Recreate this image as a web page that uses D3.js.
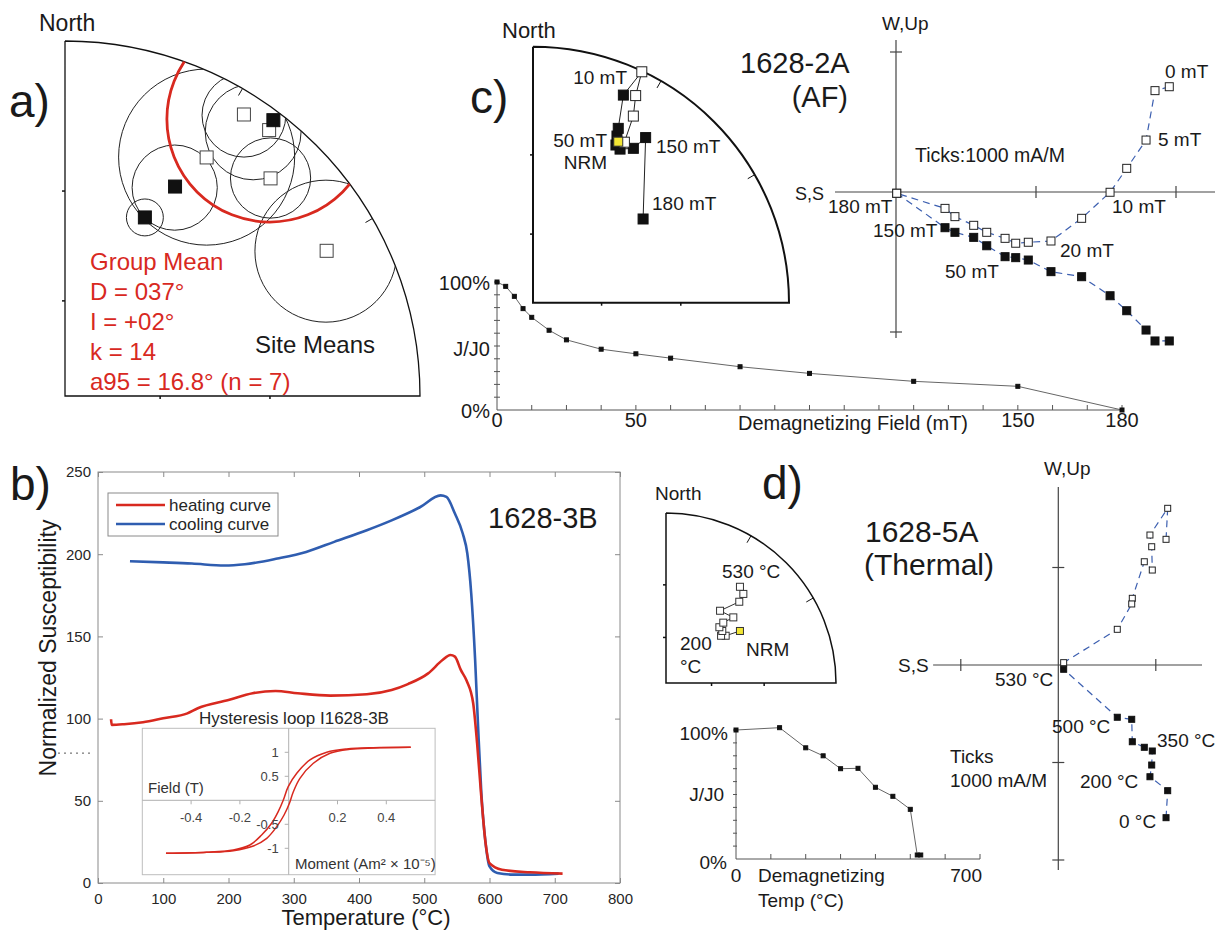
<!DOCTYPE html>
<html>
<head>
<meta charset="utf-8">
<script src="https://cdn.jsdelivr.net/npm/d3@7"></script>
<style>
  body { margin: 0; background: #fff; }
  svg { font-family: "Liberation Sans", Arial, sans-serif; }
</style>
</head>
<body>
<script>
// ---------- panel a: site means (net coords, unit radius) ----------
const siteOpen = [[0.504, 0.793], [0.575, 0.749], [0.399, 0.672], [0.579, 0.613], [0.737, 0.409]];
const siteFilled = [[0.587, 0.777], [0.310, 0.590], [0.225, 0.503]];
// a95 circles: cx, cy, r
const siteA95 = [[0.225, 0.503, 0.052], [0.309, 0.587, 0.120], [0.399, 0.673, 0.248],
                 [0.504, 0.791, 0.118], [0.530, 0.744, 0.135], [0.579, 0.614, 0.113], [0.735, 0.408, 0.200]];
const groupMean = [0.577, 0.780, 0.290];
const groupText = ["Group Mean", "D = 037°", "I = +02°", "k = 14", "a95 = 16.8° (n = 7)"];

// ---------- panel b: susceptibility vs temperature ----------
const heating = [[20, 99.6], [21, 96.2], [40, 96.6], [69, 97.8], [100, 100.2], [137, 103.2], [153, 106.3],
  [200, 111.3], [237, 115.4], [272, 116.8], [306, 115.4], [356, 114], [412, 114.8], [450, 117.4],
  [475, 121], [506, 127.5], [528, 135.6], [540, 138.7], [547, 137.7], [556, 129.6], [565, 123],
  [575, 109.3], [581, 85], [587, 54.7], [594, 24.3], [600, 12.1], [619, 8.1], [662, 6.5], [712, 5.7]];
const cooling = [[49, 195.7], [100, 195], [144, 194.3], [194, 193.1], [225, 193.9], [275, 197.4],
  [319, 201.4], [362, 207.5], [412, 214.6], [450, 220.6], [494, 228.7], [525, 235.8], [534, 234.8],
  [547, 224.7], [559, 212.6], [566, 200.4], [572, 176.1], [578, 135.6], [582.5, 95.1], [587.5, 54.7],
  [594, 24.3], [600, 10.1], [612, 6.1], [637, 5.1], [662, 5.1], [706, 5.7]];
const tempTicks = [0, 100, 200, 300, 400, 500, 600, 700, 800];
const suscTicks = [0, 50, 100, 150, 200, 250];

// hysteresis inset, two branches
const loopUpper = [[-0.503, -1.104], [-0.336, -1.083], [-0.227, -1.035], [-0.159, -0.931], [-0.111, -0.723],
  [-0.070, -0.479], [-0.043, -0.237], [-0.022, 0.006], [-0.002, 0.284], [0.033, 0.563], [0.087, 0.840],
  [0.156, 1.0], [0.238, 1.069], [0.347, 1.096], [0.5, 1.104]];
const loopLower = [[-0.503, -1.104], [-0.336, -1.083], [-0.227, -1.049], [-0.145, -0.952], [-0.090, -0.792],
  [-0.049, -0.549], [-0.019, -0.306], [0.003, -0.063], [0.019, 0.179], [0.046, 0.458], [0.101, 0.771],
  [0.169, 0.979], [0.251, 1.063], [0.347, 1.090], [0.5, 1.104]];
const loopXTicks = [-0.4, -0.2, 0.2, 0.4];
const loopYTicks = [1, 0.5, -0.5, -1];

// ---------- panel c: AF demagnetisation 1628-2A ----------
const afSteps = [0, 2.5, 5, 7.5, 10, 15, 20, 30, 40, 50, 70, 90, 120, 150, 180];
const afJ = [1.0, 0.966, 0.888, 0.792, 0.724, 0.623, 0.548, 0.475, 0.439, 0.405, 0.338, 0.286, 0.224, 0.185, 0.0];
const afNorth = [1952, 1850, 1786, 1648, 1529, 1326, 1107, 945, 855, 779, 648, 555, 421, 350, 5];
const afUp = [752, 724, 371, 169, -2, -188, -350, -359, -366, -331, -288, -238, -176, -117, -9];
const afWest = [-1064, -1064, -986, -848, -741, -605, -569, -486, -469, -462, -384, -324, -288, -255, -9];
const afNet = [[0.333, 0.629, "n"], [0.328, 0.651, "f"], [0.333, 0.681, "f"], [0.353, 0.811, "f"],
  [0.425, 0.902, "o"], [0.401, 0.809, "o"], [0.392, 0.729, "o"], [0.357, 0.627, "o"],
  [0.324, 0.616, "f"], [0.340, 0.600, "f"], [0.392, 0.603, "f"], [0.440, 0.645, "f"], [0.430, 0.327, "f"]];
const afTickVals = [0, 40, 150, 180];
const afTickText = ["0", "50", "150", "180"];

// ---------- panel d: thermal demagnetisation 1628-5A ----------
const thSteps = [0, 125, 200, 250, 300, 350, 400, 450, 500, 520, 530];
const thJ = [1.0, 1.018, 0.862, 0.800, 0.700, 0.703, 0.556, 0.486, 0.385, 0.031, 0.031];
const thNorth = [1105, 1122, 940, 958, 964, 882, 759, 753, 605, 55];
const thUp = [1289, 1607, 1333, 1213, 974, 1059, 684, 626, 366, 24];
const thWest = [-1566, -1289, -1146, -1026, -882, -844, -787, -557, -536, -44];
const thNet = [[0.435, 0.306, "n"], [0.351, 0.278, "o"], [0.324, 0.278, "o"], [0.331, 0.306, "o"],
  [0.314, 0.328, "o"], [0.337, 0.355, "o"], [0.396, 0.386, "o"], [0.318, 0.425, "o"],
  [0.431, 0.478, "o"], [0.455, 0.524, "o"], [0.435, 0.566, "o"]];

// ================= drawing =================
const width = 1215, height = 930;
const svg = d3.select("body").append("svg")
  .attr("width", width).attr("height", height);
svg.append("rect").attr("width", width).attr("height", height).attr("fill", "#fff");

const RED = "#d8291f", BLUE = "#2f5db0", DASH = "#3c5fb0";

function label(txt, x, y, size, opts = {}) {
  return svg.append("text")
    .attr("x", x).attr("y", y)
    .attr("font-size", size)
    .attr("fill", opts.fill || "#1a1a1a")
    .attr("text-anchor", opts.anchor || "start")
    .text(txt);
}

function squares(g, pts, xs, ys, size, fill, stroke) {
  g.selectAll(null).data(pts).enter().append("rect")
    .attr("x", d => xs(d[0]) - size / 2)
    .attr("y", d => ys(d[1]) - size / 2)
    .attr("width", size).attr("height", size)
    .attr("fill", fill).attr("stroke", stroke).attr("stroke-width", 1);
}

// quarter stereonet (equal angle), origin = centre of net
function stereonet(ox, oy, R, sw, clipId) {
  const x = d3.scaleLinear().domain([0, 1]).range([ox, ox + R]);
  const y = d3.scaleLinear().domain([0, 1]).range([oy, oy - R]);
  const p = d3.path();
  p.moveTo(ox, oy - R); p.lineTo(ox, oy); p.lineTo(ox + R, oy);
  p.arc(ox, oy, R, 0, -Math.PI / 2, true);
  svg.append("clipPath").attr("id", clipId).append("path").attr("d", p.toString());
  const g = svg.append("g");
  g.append("path").attr("d", p.toString())
    .attr("fill", "none").attr("stroke", "#111").attr("stroke-width", sw);
  const inner = 1 - 8 / R;
  [30, 60].forEach(dec => {
    const a = dec * Math.PI / 180;
    g.append("line")
      .attr("x1", x(Math.sin(a))).attr("y1", y(Math.cos(a)))
      .attr("x2", x(Math.sin(a) * inner)).attr("y2", y(Math.cos(a) * inner))
      .attr("stroke", "#111").attr("stroke-width", 1);
  });
  [30, 60].forEach(inc => {
    const r = Math.tan((90 - inc) / 2 * Math.PI / 180);
    g.append("line").attr("x1", x(0)).attr("x2", x(0) - 3)
      .attr("y1", y(r)).attr("y2", y(r)).attr("stroke", "#111").attr("stroke-width", 1.5);
    g.append("line").attr("x1", x(r)).attr("x2", x(r))
      .attr("y1", y(0)).attr("y2", y(0) + 3).attr("stroke", "#111").attr("stroke-width", 1.5);
  });
  return { g, x, y };
}

// ---------- panel a ----------
{
  const net = stereonet(65, 396, 355, 1.3, "clipA");
  const R = 355;
  const clipped = net.g.append("g").attr("clip-path", "url(#clipA)");
  clipped.selectAll(null).data(siteA95).enter().append("circle")
    .attr("cx", d => net.x(d[0])).attr("cy", d => net.y(d[1])).attr("r", d => d[2] * R)
    .attr("fill", "none").attr("stroke", "#222").attr("stroke-width", 1);
  clipped.append("circle")
    .attr("cx", net.x(groupMean[0])).attr("cy", net.y(groupMean[1])).attr("r", groupMean[2] * R)
    .attr("fill", "none").attr("stroke", RED).attr("stroke-width", 2.8);
  squares(net.g, siteOpen, net.x, net.y, 13, "#fff", "#444");
  squares(net.g, siteFilled, net.x, net.y, 13, "#111", "#111");

  label("North", 39, 31, 23);
  label("a)", 9, 117, 46);
  groupText.forEach((t, i) => label(t, 90, 270 + i * 30, 24, { fill: RED }));
  label("Site Means", 255, 353, 24);
}

// ---------- panel c: stereonet ----------
{
  const net = stereonet(533, 302.7, 256, 2, "clipC");
  net.g.append("path")
    .attr("d", d3.line().x(d => net.x(d[0])).y(d => net.y(d[1]))(afNet))
    .attr("fill", "none").attr("stroke", "#222").attr("stroke-width", 1);
  squares(net.g, afNet.filter(d => d[2] === "f"), net.x, net.y, 10, "#111", "#111");
  squares(net.g, afNet.filter(d => d[2] === "o"), net.x, net.y, 10, "#fff", "#222");
  squares(net.g, afNet.filter(d => d[2] === "n"), net.x, net.y, 9, "#f2e634", "#333");

  label("North", 502, 38, 22);
  label("c)", 470, 113, 46);
  label("10 mT", 627, 84, 19, { anchor: "end" });
  label("50 mT", 607, 147, 19, { anchor: "end" });
  label("NRM", 607, 169, 19, { anchor: "end" });
  label("150 mT", 656, 153, 19);
  label("180 mT", 652, 210, 19);
  label("1628-2A", 740, 73, 29);
  label("(AF)", 848, 107, 29, { anchor: "end" });
}

// ---------- panel c: J/J0 curve ----------
{
  const x = d3.scaleLinear().domain([0, 180]).range([497, 1122]);
  const y = d3.scaleLinear().domain([0, 1]).range([410, 282]);
  const g = svg.append("g");
  g.append("line").attr("x1", x(0)).attr("x2", x(180)).attr("y1", y(0)).attr("y2", y(0))
    .attr("stroke", "#555").attr("stroke-width", 1);
  g.append("line").attr("x1", x(0)).attr("x2", x(0)).attr("y1", y(0)).attr("y2", y(1))
    .attr("stroke", "#555").attr("stroke-width", 1);
  g.selectAll(null).data(d3.range(10, 181, 10)).enter().append("line")
    .attr("x1", d => x(d)).attr("x2", d => x(d)).attr("y1", y(0)).attr("y2", y(0) - 5)
    .attr("stroke", "#555").attr("stroke-width", 1);
  g.selectAll(null).data(d3.range(0.1, 1.01, 0.1)).enter().append("line")
    .attr("x1", x(0) - 3).attr("x2", x(0) + 3).attr("y1", d => y(d)).attr("y2", d => y(d))
    .attr("stroke", "#555").attr("stroke-width", 1);
  const pts = afSteps.map((s, i) => [s, afJ[i]]);
  g.append("path").attr("d", d3.line().x(d => x(d[0])).y(d => y(d[1]))(pts))
    .attr("fill", "none").attr("stroke", "#666").attr("stroke-width", 1);
  squares(g, pts, x, y, 4, "#111", "#111");
  label("100%", 490, 290, 20, { anchor: "end" });
  label("J/J0", 490, 356, 20, { anchor: "end" });
  label("0%", 490, 418, 20, { anchor: "end" });
  afTickVals.forEach((v, i) => label(afTickText[i], x(v), 427, 20, { anchor: "middle" }));
  label("Demagnetizing Field (mT)", 853, 430, 20, { anchor: "middle" });
}

// ---------- Zijderveld helper ----------
function zijder(ox, oy, pxPer1000, ext, hTicks, vTicks, north, up, west, size) {
  const x = d3.scaleLinear().domain([0, 1000]).range([ox, ox + pxPer1000]);
  const y = d3.scaleLinear().domain([0, 1000]).range([oy, oy - pxPer1000]);
  const g = svg.append("g");
  g.append("line").attr("x1", x(ext[0])).attr("x2", x(ext[1])).attr("y1", y(0)).attr("y2", y(0))
    .attr("stroke", "#444").attr("stroke-width", 1.2);
  g.append("line").attr("x1", x(0)).attr("x2", x(0)).attr("y1", y(ext[2])).attr("y2", y(ext[3]))
    .attr("stroke", "#444").attr("stroke-width", 1.2);
  g.selectAll(null).data(hTicks).enter().append("line")
    .attr("x1", d => x(d)).attr("x2", d => x(d)).attr("y1", y(0) - 6).attr("y2", y(0) + 6)
    .attr("stroke", "#444").attr("stroke-width", 1.2);
  g.selectAll(null).data(vTicks).enter().append("line")
    .attr("x1", x(0) - 6).attr("x2", x(0) + 6).attr("y1", d => y(d)).attr("y2", d => y(d))
    .attr("stroke", "#444").attr("stroke-width", 1.2);
  const vert = north.map((n, i) => [n, up[i]]);
  const horiz = north.map((n, i) => [n, west[i]]);
  const line = d3.line().x(d => x(d[0])).y(d => y(d[1]));
  [vert, horiz].forEach(set => g.append("path").attr("d", line(set))
    .attr("fill", "none").attr("stroke", DASH).attr("stroke-width", 1.2).attr("stroke-dasharray", "7,5"));
  squares(g, horiz, x, y, size, "#111", "#111");
  squares(g, vert, x, y, size, "#fff", "#222");
  return g;
}

// ---------- panel c: Zijderveld ----------
zijder(896, 192, 140, [-436, 2280, 1086, -1043], [1000, 2000], [1000, -1000], afNorth, afUp, afWest, 8);
label("W,Up", 882, 30, 19);
label("S,S", 795, 200, 18);
label("180 mT", 828, 213, 19);
label("0 mT", 1165, 78, 19);
label("5 mT", 1158, 146, 19);
label("Ticks:1000 mA/M", 915, 162, 19.5);
label("10 mT", 1112, 213, 19);
label("150 mT", 873, 237, 19);
label("20 mT", 1060, 257, 19);
label("50 mT", 945, 278, 19);

// ---------- panel b ----------
{
  const x = d3.scaleLinear().domain([0, 800]).range([98, 620]);
  const y = d3.scaleLinear().domain([0, 250]).range([883, 472]);
  const g = svg.append("g");
  const axStyle = sel => {
    sel.select(".domain").remove();
    sel.selectAll(".tick line").attr("stroke", "#8a8a8a");
    sel.selectAll(".tick text").attr("fill", "#262626").attr("font-size", 15)
      .attr("font-family", "Liberation Sans, Arial, sans-serif");
  };
  g.append("g").attr("transform", `translate(0,${y(0)})`)
    .call(d3.axisBottom(x).tickValues(tempTicks).tickSize(-5).tickPadding(10)).call(axStyle);
  g.append("g").attr("transform", `translate(0,${y(250)})`)
    .call(d3.axisTop(x).tickValues(tempTicks).tickSize(-5).tickFormat("")).call(axStyle);
  g.append("g").attr("transform", `translate(${x(0)},0)`)
    .call(d3.axisLeft(y).tickValues(suscTicks).tickSize(-5).tickPadding(7)).call(axStyle);
  g.append("g").attr("transform", `translate(${x(800)},0)`)
    .call(d3.axisRight(y).tickValues(suscTicks).tickSize(-5).tickFormat("")).call(axStyle);
  g.append("rect").attr("x", x(0)).attr("y", y(250)).attr("width", x(800) - x(0)).attr("height", y(0) - y(250))
    .attr("fill", "none").attr("stroke", "#8a8a8a").attr("stroke-width", 1);

  const line = d3.line().x(d => x(d[0])).y(d => y(d[1])).curve(d3.curveMonotoneX);
  g.append("path").attr("d", line(cooling)).attr("fill", "none").attr("stroke", BLUE).attr("stroke-width", 2.6);
  g.append("path").attr("d", line(heating)).attr("fill", "none").attr("stroke", RED).attr("stroke-width", 2.6);

  // stray dotted mark left of the axis
  g.append("line").attr("x1", 58).attr("x2", 92).attr("y1", y(79)).attr("y2", y(79))
    .attr("stroke", "#555").attr("stroke-width", 1).attr("stroke-dasharray", "2,4");

  // legend
  g.append("rect").attr("x", 108).attr("y", 493).attr("width", 170).attr("height", 43)
    .attr("fill", "#fff").attr("stroke", "#8a8a8a");
  g.append("line").attr("x1", 116).attr("x2", 165).attr("y1", 505).attr("y2", 505).attr("stroke", RED).attr("stroke-width", 2.6);
  g.append("line").attr("x1", 116).attr("x2", 165).attr("y1", 524).attr("y2", 524).attr("stroke", BLUE).attr("stroke-width", 2.6);
  label("heating curve", 169, 511, 17, { fill: "#262626" });
  label("cooling curve", 169, 530, 17, { fill: "#262626" });
  label("1628-3B", 488, 528, 29);
  label("b)", 10, 500, 46);
  label("Temperature (°C)", 366, 925, 22, { anchor: "middle" });
  svg.append("text").attr("transform", "translate(56,648) rotate(-90)")
    .attr("text-anchor", "middle").attr("font-size", 23).attr("fill", "#1a1a1a")
    .text("Normalized Susceptibility");

  // inset: hysteresis loop
  const ix = d3.scaleLinear().domain([0, 0.4]).range([288.7, 386.3]);
  const iy = d3.scaleLinear().domain([0, 1]).range([800.3, 752.3]);
  const ig = svg.append("g");
  ig.append("rect").attr("x", ix(-0.6)).attr("y", iy(1.5)).attr("width", ix(0.6) - ix(-0.6))
    .attr("height", iy(-1.55) - iy(1.5)).attr("fill", "#fff").attr("stroke", "#bdbdbd");
  ig.append("line").attr("x1", ix(-0.6)).attr("x2", ix(0.6)).attr("y1", iy(0)).attr("y2", iy(0))
    .attr("stroke", "#b0b0b0");
  ig.append("line").attr("x1", ix(0)).attr("x2", ix(0)).attr("y1", iy(1.5)).attr("y2", iy(-1.55))
    .attr("stroke", "#b0b0b0");
  ig.selectAll(null).data(loopXTicks).enter().append("line")
    .attr("x1", d => ix(d)).attr("x2", d => ix(d)).attr("y1", iy(0)).attr("y2", iy(0) + 4).attr("stroke", "#b0b0b0");
  ig.selectAll(null).data(loopYTicks).enter().append("line")
    .attr("x1", ix(0) - 4).attr("x2", ix(0)).attr("y1", d => iy(d)).attr("y2", d => iy(d)).attr("stroke", "#b0b0b0");
  const il = d3.line().x(d => ix(d[0])).y(d => iy(d[1])).curve(d3.curveCatmullRom);
  [loopUpper, loopLower].forEach(b => ig.append("path").attr("d", il(b))
    .attr("fill", "none").attr("stroke", RED).attr("stroke-width", 1.5));
  loopXTicks.forEach(v => label(v.toString(), ix(v), 822, 13, { anchor: "middle", fill: "#444" }));
  loopYTicks.forEach(v => label(v.toString(), ix(0) - 10, iy(v) + 5, 13, { anchor: "end", fill: "#444" }));
  label("Field (T)", 148, 793, 15, { fill: "#333" });
  label("Moment (Am² × 10⁻⁵)", 295, 869, 15, { fill: "#333" });
  label("Hysteresis loop I1628-3B", 294, 724, 17, { anchor: "middle", fill: "#262626" });
}

// ---------- panel d: stereonet ----------
{
  const net = stereonet(666, 683, 170, 1.5, "clipD");
  net.g.append("path")
    .attr("d", d3.line().x(d => net.x(d[0])).y(d => net.y(d[1]))(thNet))
    .attr("fill", "none").attr("stroke", "#333").attr("stroke-width", 1);
  squares(net.g, thNet.filter(d => d[2] === "o"), net.x, net.y, 7, "#fff", "#333");
  squares(net.g, thNet.filter(d => d[2] === "n"), net.x, net.y, 7, "#f2e634", "#333");
  label("North", 655, 500, 19);
  label("d)", 762, 499, 46);
  label("530 °C", 722, 578, 19);
  label("200", 680, 650, 19);
  label("°C", 680, 673, 19);
  label("NRM", 746, 656, 19);
  label("1628-5A", 865, 542, 30);
  label("(Thermal)", 864, 575, 30);
}

// ---------- panel d: J/J0 ----------
{
  const x = d3.scaleLinear().domain([0, 700]).range([736, 980]);
  const y = d3.scaleLinear().domain([0, 1]).range([859, 730]);
  const g = svg.append("g");
  g.append("line").attr("x1", x(0)).attr("x2", x(700)).attr("y1", y(0)).attr("y2", y(0))
    .attr("stroke", "#555").attr("stroke-width", 1);
  g.append("line").attr("x1", x(0)).attr("x2", x(0)).attr("y1", y(0)).attr("y2", y(1))
    .attr("stroke", "#555").attr("stroke-width", 1);
  g.selectAll(null).data(d3.range(100, 701, 100)).enter().append("line")
    .attr("x1", d => x(d)).attr("x2", d => x(d)).attr("y1", y(0)).attr("y2", y(0) - 5)
    .attr("stroke", "#555").attr("stroke-width", 1);
  g.selectAll(null).data(d3.range(0.1, 1.01, 0.1)).enter().append("line")
    .attr("x1", x(0) - 3).attr("x2", x(0) + 1).attr("y1", d => y(d)).attr("y2", d => y(d))
    .attr("stroke", "#555").attr("stroke-width", 1);
  const pts = thSteps.map((s, i) => [s, thJ[i]]);
  g.append("path").attr("d", d3.line().x(d => x(d[0])).y(d => y(d[1]))(pts))
    .attr("fill", "none").attr("stroke", "#666").attr("stroke-width", 1);
  squares(g, pts, x, y, 4, "#111", "#111");
  label("100%", 728, 740, 19, { anchor: "end" });
  label("J/J0", 724, 801, 19, { anchor: "end" });
  label("0%", 727, 869, 19, { anchor: "end" });
  label("0", x(0), 882, 19, { anchor: "middle" });
  label("Demagnetizing", 758, 882, 19);
  label("Temp (°C)", 758, 907, 19);
  label("700", 982, 882, 19, { anchor: "end" });
}

// ---------- panel d: Zijderveld ----------
zijder(1058.3, 665, 97.5, [-1284, 1474, 1826, -2103], [-1000, 1000], [1000, -1000, -2000], thNorth, thUp, thWest, 6);
label("W,Up", 1044, 475, 19);
label("S,S", 898, 672, 19);
label("530 °C", 995, 686, 19);
label("500 °C", 1052, 733, 19);
label("350 °C", 1157, 747, 19);
label("Ticks", 950, 763, 19);
label("1000 mA/M", 950, 787, 19);
label("200 °C", 1080, 788, 19);
label("0 °C", 1119, 828, 19);
</script>
</body>
</html>
